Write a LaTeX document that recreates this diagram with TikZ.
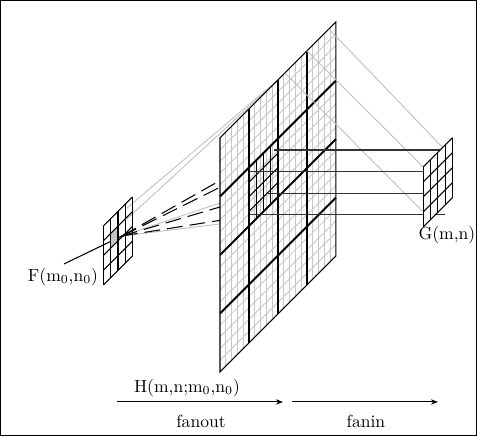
\documentclass[tikz,border=0pt]{standalone}
\usepackage{tikz}
\usetikzlibrary{arrows.meta,positioning}

\begin{document}
\begin{tikzpicture}[x=0.57pt,y=-0.57pt,
  fine/.style   = {gray!45, line width=0.5pt},
  coarse/.style = {black, line width=1.1pt},
  edge/.style   = {black, line width=0.6pt},
  sub/.style    = {black, line width=0.6pt},
  rayg/.style   = {gray!50, line width=0.5pt},
  rayb/.style   = {black, line width=0.6pt, dash pattern=on 9pt off 4pt},
  hor/.style    = {black!80, line width=0.6pt},
  flow/.style   = {-{Stealth[length=4pt]}, line width=0.5pt},
  lbl/.style    = {font=\normalsize, inner sep=1pt},
]

%% frame
\draw[line width=0.6pt] (0.5,0.5) rectangle (476.5,435.5);

%% points on F, H and G
\coordinate (P)   at (122,236);
\coordinate (Fs)  at (64,264);
\coordinate (Q1)  at (127,208);
\coordinate (Q2)  at (127,219);
\coordinate (Htop) at (278,80);
\coordinate (H1)  at (274,150);
\coordinate (H2)  at (250,171.7);
\coordinate (H3)  at (266.7,193.3);
\coordinate (H4)  at (250,215);
\coordinate (E1)  at (220,180.6);
\coordinate (E2)  at (220,187.3);
\coordinate (E3)  at (220,207);
\coordinate (E4)  at (220,220.4);
\coordinate (G1)  at (445,150);
\coordinate (G2)  at (445,171.7);
\coordinate (G3)  at (445,193.3);
\coordinate (G4)  at (445,215);

%% rays F -> H
\draw[rayg] (Q1) -- (Htop);
\draw[rayg] (Q2) -- (Htop);
\draw[rayg] (P) -- (220,203);
\draw[rayg] (P) -- (220,224);
\draw[edge] (Fs) -- (P);
\draw[rayb] (P) -- (E1);
\draw[rayb] (P) -- (E2);
\draw[rayb] (P) -- (E3);
\draw[rayb] (P) -- (E4);

%% H sheet
\foreach \k in {1,...,19}{
  \draw[fine] (220+5.8*\k,138-5.8*\k) -- ++(0,234);
  \draw[fine] (220,138+11.7*\k) -- ++(116,-116);
}
\foreach \k in {1,2,3}{
  \draw[sub] (249+7.25*\k,167.5-7.25*\k) -- ++(0,58.5);
  \draw[sub] (249,167.5+14.625*\k) -- ++(29,-29);
  \draw[coarse] (220+29*\k,138-29*\k) -- ++(0,234);
  \draw[coarse] (220,138+58.5*\k) -- ++(116,-116);
}
\draw[edge] (220,138) -- (336,22) -- (336,256) -- (220,372) -- cycle;

%% rays H -> G
\draw[rayg] (329,29) -- (447,152);
\draw[rayg] (307,51) -- (423.3,167);
\draw[rayg] (285,73) -- (423.3,212);
\draw[hor] (H1) -- (G1);
\draw[hor] (H2) -- (G2);
\draw[hor] (H3) -- (G3);
\draw[hor] (H4) -- (G4);

%% F sheet
\fill[gray!45] (110.75,233.5) -- ++(7.25,-7.25) -- ++(0,14.75) -- ++(-7.25,7.25) -- cycle;
\foreach \k in {0,...,4}{
  \draw[edge] (103.5+7.25*\k,226-7.25*\k) -- ++(0,59);
  \draw[edge] (103.5,226+14.75*\k) -- ++(29,-29);
}

%% G sheet
\fill[white] (423.3,167) -- ++(29.3,-29.3) -- ++(0,60) -- ++(-29.3,29.3) -- cycle;
\foreach \k in {0,...,4}{
  \draw[edge] (423.3+7.325*\k,167-7.325*\k) -- ++(0,60);
  \draw[edge] (423.3,167+15*\k) -- ++(29.3,-29.3);
}

%% labels
\node[lbl] (Fl) at (63,277) {F(m$_0$,n$_0$)};
\node[lbl] (Gl) at (447,235) {G(m,n)};
\node[lbl] (Hl) at (187,388) {H(m,n;m$_0$,n$_0$)};

%% fanout / fanin
\coordinate (A0) at (117,402);
\coordinate (A1) at (283,402);
\coordinate (B0) at (292,402);
\coordinate (B1) at (438,402);
\draw[flow] (A0) -- (A1);
\draw[flow] (B0) -- (B1);
\node[lbl] (fo) at (201,421) {fanout};
\node[lbl] (fi) at (366,421) {fanin};

\end{tikzpicture}
\end{document}
